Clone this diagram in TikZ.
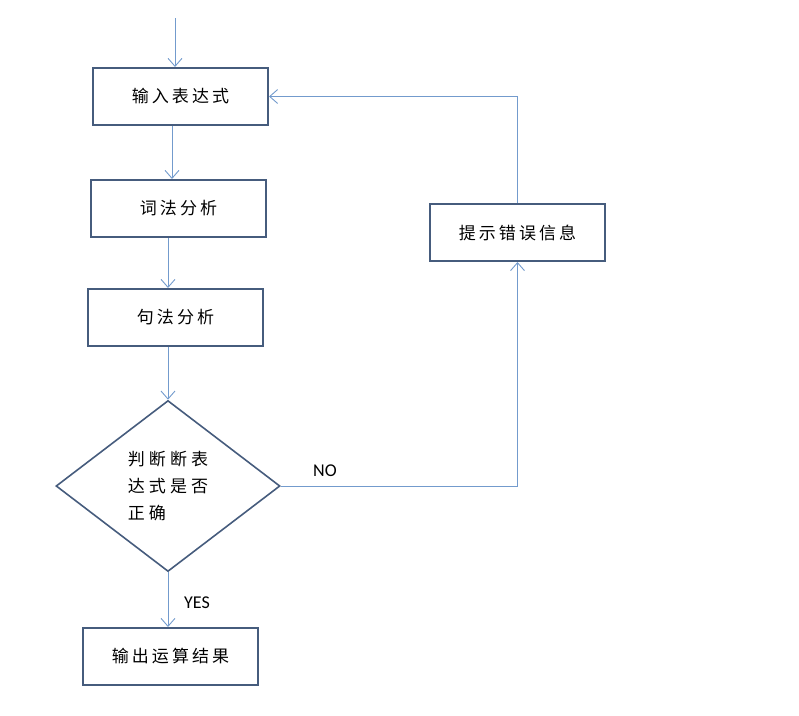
\documentclass[tikz,border=0pt]{standalone}
\usepackage{fontspec}
\setmainfont{Carlito}
\newfontfamily\cjk[LetterSpace=18]{Noto Sans CJK SC}
\newfontfamily\cjkwide[LetterSpace=24]{Noto Sans CJK SC}
\usetikzlibrary{shapes.geometric,arrows.meta}
\definecolor{boxline}{RGB}{70,92,125}
\definecolor{arrline}{RGB}{115,155,205}
\tikzset{
  x=1pt,y=-1pt,
  procbox/.style={draw=boxline,line width=2pt,minimum width=175pt,minimum height=57pt,inner sep=0pt,font=\cjk\fontsize{17}{20}\selectfont},
  decide/.style={draw=boxline,line width=1.6pt,shape=diamond,minimum width=224pt,minimum height=171pt,inner sep=0pt,align=left,font=\cjkwide\fontsize{17}{27}\selectfont},
  arr/.style={draw=arrline,line width=1pt,-{Straight Barb[length=8pt,width=14pt,line width=0.9pt]}},
  lbl/.style={font=\fontsize{18}{20}\selectfont,inner sep=0pt}
}
\begin{document}
\begin{tikzpicture}
\useasboundingbox (0,0) rectangle (799,715);
\coordinate (start) at (175,18);
\node[procbox] (b1) at (180.5,96.5) {输入表达式};
\node[procbox] (b2) at (178.5,208.5) {词法分析};
\node[procbox] (b3) at (175.5,317.5) {句法分析};
\node[decide] (d) at (168,486) {判断断表\\达式是否\\正确};
\node[procbox] (b5) at (170.5,656.5) {输出运算结果};
\node[procbox] (err) at (517.5,232.5) {提示错误信息};
\node[lbl] (no) at (325,471) {NO};
\node[lbl] (yes) at (197,603) {YES};
\draw[arr] (start) -- (start |- b1.north);
\draw[arr] ([xshift=-8.5pt]b1.south) -- ([xshift=-8.5pt]b1.south |- b2.north);
\draw[arr] ([xshift=-10.5pt]b2.south) -- ([xshift=-10.5pt]b2.south |- b3.north);
\draw[arr] ([xshift=-7.5pt]b3.south) -- ([xshift=-7.5pt]b3.south |- d.north);
\draw[arr] (d.south) -- (d.south |- b5.north);
\draw[arr] (d.east) -- (d.east -| err.south) -- (err.south);
\draw[arr] (err.north) |- (b1.east);
\end{tikzpicture}
\end{document}
